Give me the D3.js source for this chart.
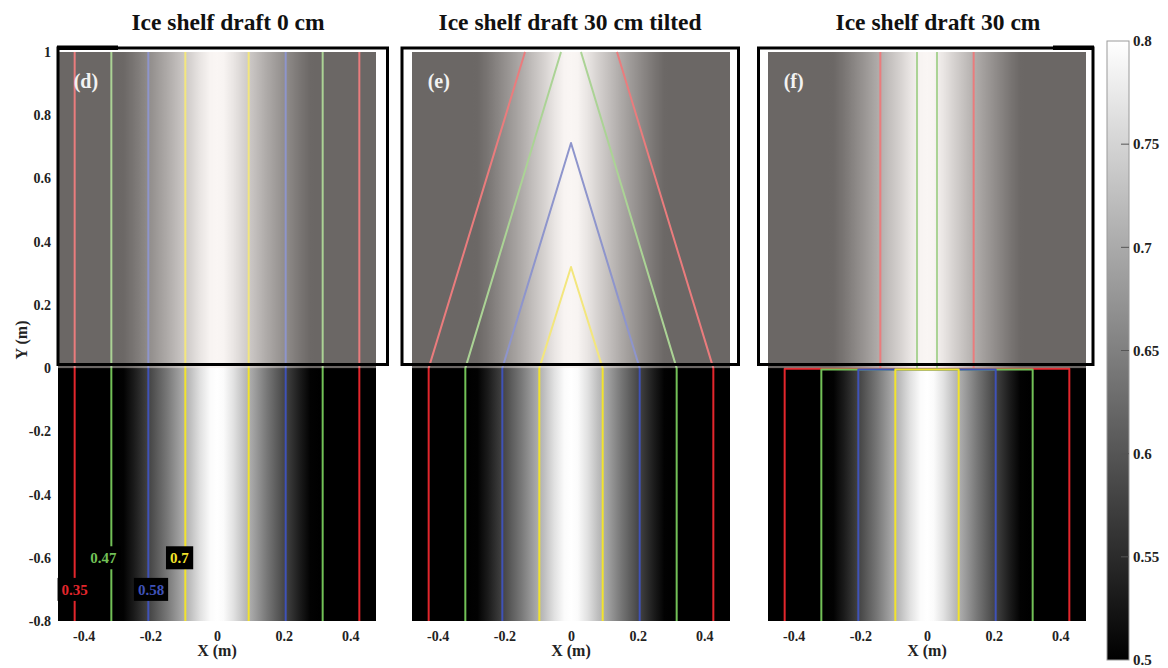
<!DOCTYPE html>
<html>
<head>
<meta charset="utf-8">
<script src="https://cdn.jsdelivr.net/npm/d3@7/dist/d3.min.js"></script>
<style>
  html, body { margin: 0; padding: 0; background: #ffffff; }
  svg { display: block; }
  text { font-family: "Liberation Serif", "Times New Roman", serif; font-weight: bold; }
</style>
</head>
<body>
<svg id="chart" width="1168" height="668"></svg>
<script>
// ---------------- DATA ----------------
const panelIds = ["(d)", "(e)", "(f)"];
const panelTitles = ["Ice shelf draft 0 cm", "Ice shelf draft 30 cm tilted", "Ice shelf draft 30 cm"];

// field profile (colour value vs |X|)
const profileX = [0, 0.02, 0.05, 0.08, 0.11, 0.15, 0.20, 0.25, 0.28, 0.31, 0.48];
const profileV = [0.80, 0.795, 0.765, 0.725, 0.69, 0.64, 0.585, 0.53, 0.502, 0.48, 0.36];

// contour levels and their half widths below the shelf (Y < 0)
const contourLevels = [0.35, 0.47, 0.58, 0.7];
const contourHalfWidth = [0.427, 0.317, 0.206, 0.095];
// tilted shelf (e): half width at the top / apex position
const tiltedTopHalfWidth = [0.138, 0.030, 0, 0];
const tiltedTopY = [1.0, 1.0, 0.712, 0.32];
// flat 30 cm shelf (f): contours inside the shelf, and cap heights
const flatUpperHalfWidth = [0.14, 0.03];
const flatCapY = [-0.002, -0.004, -0.004, -0.004];

// contour labels in panel (d)
const labelText = ["0.35", "0.47", "0.58", "0.7"];
const labelX = [-0.427, -0.341, -0.198, -0.113];
const labelY = [-0.70, -0.60, -0.70, -0.60];

const xTicks = [-0.4, -0.2, 0, 0.2, 0.4];
const yTicks = [1, 0.8, 0.6, 0.4, 0.2, 0, -0.2, -0.4, -0.6, -0.8];
const cbTicks = [0.5, 0.55, 0.6, 0.65, 0.7, 0.75, 0.8];

// ---------------- STYLE / LAYOUT ----------------
const contourColors = ["#e3262c", "#72c157", "#3f52b8", "#f2e32b"];
const imgLefts = [58, 412, 768];
const imgWidth = 318;
const titleXs = [228, 570, 938];
const frames = [[58, 387.5], [402, 738.5], [758.5, 1093]];
const thickSegs = [[57, 118], null, [1053, 1094]];

const svg = d3.select("#chart");
const defs = svg.append("defs");

const y = d3.scaleLinear().domain([-0.8, 1.0]).range([621, 52]);
const gray = d3.scaleLinear().domain([0.5, 0.8]).range(["#000000", "#ffffff"]).clamp(true);

// horizontal field gradient
const xDomain = [-0.477, 0.477];
const off = d3.scaleLinear().domain(xDomain).range([0, 100]);
const grad = defs.append("linearGradient").attr("id", "field").attr("x1", "0%").attr("x2", "100%").attr("y1", "0%").attr("y2", "0%");
const stops = [];
for (let i = profileX.length - 1; i >= 0; i--) stops.push([-profileX[i], profileV[i]]);
for (let i = 1; i < profileX.length; i++) stops.push([profileX[i], profileV[i]]);
grad.selectAll("stop").data(stops).join("stop")
  .attr("offset", d => Math.max(0, Math.min(100, off(d[0]))) + "%")
  .attr("stop-color", d => gray(d[1]));

const line = d3.line();

panelIds.forEach((pid, p) => {
  const x = d3.scaleLinear().domain(xDomain).range([imgLefts[p], imgLefts[p] + imgWidth]);
  const g = svg.append("g");
  const [fx0, fx1] = frames[p];
  const fTop = 48, fBot = 364.5;

  // frame background (white)
  g.append("rect").attr("x", fx0).attr("y", fTop).attr("width", fx1 - fx0).attr("height", fBot - fTop)
    .attr("fill", "#ffffff");

  // field image
  g.append("rect").attr("x", x(xDomain[0])).attr("y", y(1.0))
    .attr("width", x(xDomain[1]) - x(xDomain[0])).attr("height", y(-0.8) - y(1.0))
    .attr("fill", "url(#field)");

  // contours
  const cg = g.append("g").attr("fill", "none").attr("stroke-width", 2).attr("stroke-linejoin", "round");
  contourLevels.forEach((lv, i) => {
    const hw = contourHalfWidth[i];
    const col = contourColors[i];
    let paths = [];
    if (p === 0) {
      paths = [[[-hw, -0.8], [-hw, 1.0]], [[hw, -0.8], [hw, 1.0]]];
    } else if (p === 1) {
      const th = tiltedTopHalfWidth[i], ty = tiltedTopY[i];
      if (th > 0) {
        paths = [[[-hw, -0.8], [-hw, 0], [-th, ty]], [[hw, -0.8], [hw, 0], [th, ty]]];
      } else {
        paths = [[[-hw, -0.8], [-hw, 0], [0, ty], [hw, 0], [hw, -0.8]]];
      }
    } else {
      const cy = flatCapY[i];
      paths = [[[-hw, -0.8], [-hw, cy], [hw, cy], [hw, -0.8]]];
      if (i < flatUpperHalfWidth.length) {
        const uh = flatUpperHalfWidth[i];
        paths.push([[-uh, 0], [-uh, 1.0]], [[uh, 0], [uh, 1.0]]);
      }
    }
    paths.forEach(pt => {
      cg.append("path").attr("d", line(pt.map(d => [x(d[0]), y(d[1])]))).attr("stroke", col);
    });
  });

  // shelf overlay (upper half whitened)
  g.append("rect").attr("x", x(xDomain[0])).attr("y", y(1.0))
    .attr("width", x(xDomain[1]) - x(xDomain[0])).attr("height", y(0) - y(1.0))
    .attr("fill", "#f4ebe5").attr("opacity", 0.44);

  // frame stroke
  g.append("rect").attr("x", fx0).attr("y", fTop).attr("width", fx1 - fx0).attr("height", fBot - fTop)
    .attr("fill", "none").attr("stroke", "#000").attr("stroke-width", 3);
  if (thickSegs[p]) {
    g.append("rect").attr("x", thickSegs[p][0]).attr("y", 45.5).attr("width", thickSegs[p][1] - thickSegs[p][0])
      .attr("height", 4.5).attr("fill", "#000");
  }

  // panel id
  g.append("text").attr("x", x(-0.43)).attr("y", 88).attr("fill", "#f2f2f2")
    .attr("font-size", 20).text(pid);

  // title
  svg.append("text").attr("x", titleXs[p]).attr("y", 30).attr("text-anchor", "middle")
    .attr("font-size", 23.5).attr("fill", "#111").text(panelTitles[p]);

  // x axis
  const xa = svg.append("g").attr("transform", `translate(0,${y(-0.8)})`)
    .call(d3.axisBottom(x).tickValues(xTicks).tickSize(0).tickPadding(10).tickFormat(d => String(d)));
  xa.select(".domain").remove();
  xa.selectAll("text").attr("font-size", 14).attr("fill", "#222")
    .style("font-family", '"Liberation Serif", "Times New Roman", serif').style("font-weight", "bold");
  svg.append("text").attr("x", x(0)).attr("y", 656).attr("text-anchor", "middle")
    .attr("font-size", 16).attr("fill", "#222").text("X (m)");

  // contour labels (panel d only)
  if (p === 0) {
    labelText.forEach((t, i) => {
      const lg = svg.append("g").attr("transform", `translate(${x(labelX[i])},${y(labelY[i])})`);
      const txt = lg.append("text").attr("text-anchor", "middle").attr("dy", "0.35em")
        .attr("font-size", 15).attr("fill", contourColors[i]).text(t);
      const bb = txt.node().getBBox();
      lg.insert("rect", "text").attr("x", bb.x - 4).attr("y", -11.5).attr("width", bb.width + 8)
        .attr("height", 23).attr("fill", "#000");
    });
  }
});

// y axis (left of panel d)
const ya = svg.append("g").attr("transform", "translate(58,0)")
  .call(d3.axisLeft(y).tickValues(yTicks).tickSize(0).tickPadding(7).tickFormat(d => String(d)));
ya.select(".domain").remove();
ya.selectAll("text").attr("font-size", 14).attr("fill", "#222")
  .style("font-family", '"Liberation Serif", "Times New Roman", serif').style("font-weight", "bold");
svg.append("text").attr("transform", "translate(27,340) rotate(-90)").attr("text-anchor", "middle")
  .attr("font-size", 16).attr("fill", "#222").text("Y (m)");

// colorbar
const cbX = 1107, cbW = 22;
const cy = d3.scaleLinear().domain([0.5, 0.8]).range([660, 41]);
const cbg = defs.append("linearGradient").attr("id", "cbar").attr("x1", "0%").attr("x2", "0%").attr("y1", "100%").attr("y2", "0%");
cbg.selectAll("stop").data(cbTicks).join("stop")
  .attr("offset", d => ((d - 0.5) / 0.3 * 100) + "%")
  .attr("stop-color", d => gray(d));
svg.append("rect").attr("x", cbX).attr("y", cy(0.8)).attr("width", cbW).attr("height", cy(0.5) - cy(0.8))
  .attr("fill", "url(#cbar)").attr("stroke", "#9a9a9a").attr("stroke-width", 1);
svg.append("g").selectAll("line").data(cbTicks.slice(1, -1)).join("line")
  .attr("x1", cbX + cbW - 8).attr("x2", cbX + cbW).attr("y1", d => cy(d)).attr("y2", d => cy(d))
  .attr("stroke", "#555").attr("stroke-width", 1);
const ca = svg.append("g").attr("transform", `translate(${cbX + cbW},0)`)
  .call(d3.axisRight(cy).tickValues(cbTicks).tickSize(0).tickPadding(4).tickFormat(d => String(d)));
ca.select(".domain").remove();
ca.selectAll("text").attr("font-size", 15).attr("fill", "#222")
  .style("font-family", '"Liberation Serif", "Times New Roman", serif').style("font-weight", "bold");
</script>
</body>
</html>
